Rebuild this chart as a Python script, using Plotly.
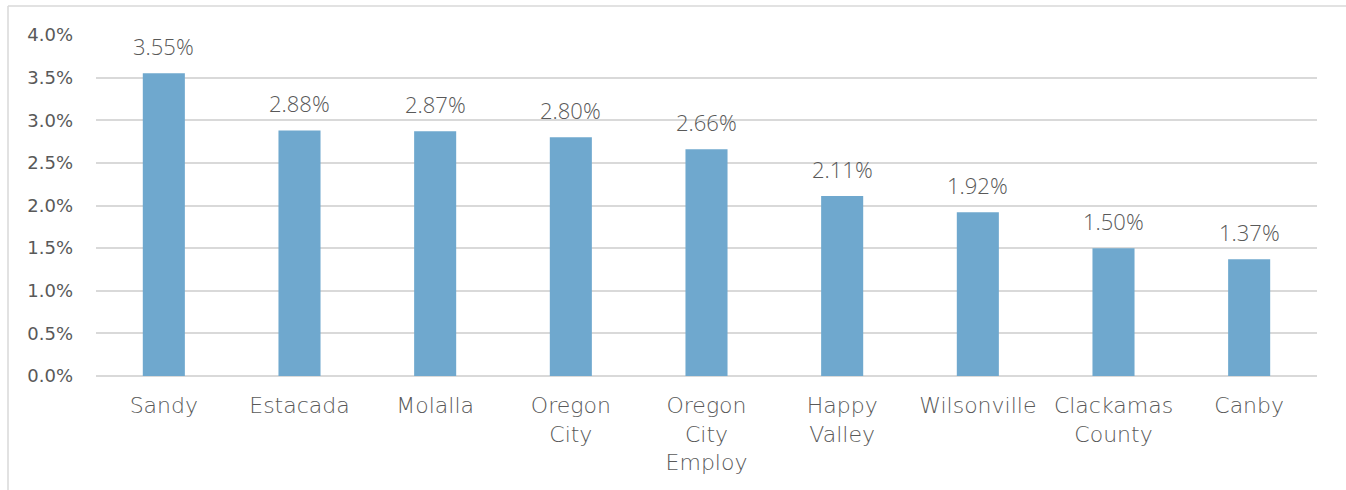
import plotly.graph_objects as go

categories = ["Sandy", "Estacada", "Molalla", "Oregon<br>City", "Oregon<br>City<br>Employ",
              "Happy<br>Valley", "Wilsonville", "Clackamas<br>County", "Canby"]
rates = [3.55, 2.88, 2.87, 2.80, 2.66, 2.11, 1.92, 1.50, 1.37]
tick_vals = [0, 0.5, 1.0, 1.5, 2.0, 2.5, 3.0, 3.5, 4.0]
tick_text = [f"{v:.1f}%" for v in tick_vals]
value_labels = [f"{v:.2f}%" for v in rates]

GREY = "#595959"

fig = go.Figure(go.Bar(
    x=categories,
    y=rates,
    marker=dict(color="#6FA8CE", line=dict(width=0)),
    width=0.31,
    hoverinfo="x+y",
))

# value labels above each bar
for cat, val, lab in zip(categories, rates, value_labels):
    fig.add_annotation(
        x=cat, y=val, text=lab, showarrow=False,
        yanchor="bottom", yshift=10,
        font=dict(family="Open Sans, sans-serif", size=22, color=GREY, weight=300),
    )

fig.update_layout(
    width=1346, height=490,
    margin=dict(l=96, r=29, t=35, b=114),
    paper_bgcolor="white", plot_bgcolor="white",
    showlegend=False,
    xaxis=dict(
        tickfont=dict(family="DejaVu Sans, sans-serif", size=22, color=GREY, weight=300),
        showgrid=False, showline=False, ticks="", tickangle=0,
        ticklabelstandoff=14,
    ),
    yaxis=dict(
        range=[0, 4.0],
        tickvals=tick_vals, ticktext=tick_text,
        tickfont=dict(family="DejaVu Sans, sans-serif", size=18, color=GREY),
        showgrid=True, gridcolor="#D9D9D9", gridwidth=1.5,
        zeroline=True, zerolinecolor="#D9D9D9", zerolinewidth=1.5,
        showline=False, ticks="", ticklabelstandoff=22,
    ),
    shapes=[
        # outer frame of the chart area
        dict(type="line", xref="paper", yref="paper",
             x0=(8 - 96) / 1221, x1=1.05, y0=1 + (35 - 6) / 341, y1=1 + (35 - 6) / 341,
             line=dict(color="#D9D9D9", width=1.5)),
        dict(type="line", xref="paper", yref="paper",
             x0=(8 - 96) / 1221, x1=(8 - 96) / 1221, y0=-0.4, y1=1 + (35 - 6) / 341,
             line=dict(color="#D9D9D9", width=1.5)),
    ],
)

fig.write_html("out.html")
